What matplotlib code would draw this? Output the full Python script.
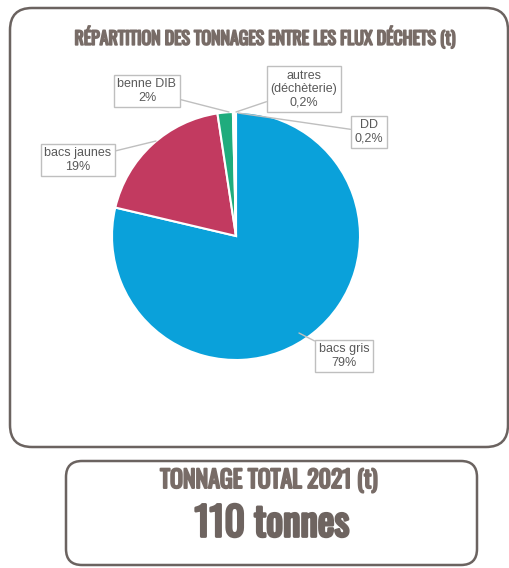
import matplotlib
matplotlib.use("Agg")
from matplotlib import pyplot as plt
from matplotlib.patches import FancyBboxPatch
import matplotlib.patheffects as pe

# data
flux = ['bacs gris', 'bacs jaunes', 'benne DIB', 'autres\n(déchèterie)', 'DD']
parts = [79, 19, 2, 0.2, 0.2]
parts_txt = ['79%', '19%', '2%', '0,2%', '0,2%']
total_tonnes = 110
annee = 2021

colors = ['#0aa1da', '#c23a60', '#1fac7d', '#ffffff', '#ffffff']

W, H = 510, 568
def Y(y):  # pixel from top -> data
    return H - y

fig = plt.figure(figsize=(W / 100, H / 100), dpi=100)
ax = fig.add_axes([0, 0, 1, 1])

narrow = ['Oswald', 'Barlow Condensed', 'Asap Condensed', 'DejaVu Sans']
lab_font = ['Liberation Sans', 'DejaVu Sans']
border = '#6b6360'
title_col = '#786c67'

# outer frames
ax.add_patch(FancyBboxPatch((10, Y(447)), 498, 439, boxstyle='round,pad=0,rounding_size=22',
                            fc='white', ec=border, lw=1.8, zorder=0))
ax.add_patch(FancyBboxPatch((66, Y(565)), 411, 104, boxstyle='round,pad=0,rounding_size=16',
                            fc='white', ec=border, lw=1.8, zorder=0))

wedges, _ = ax.pie(parts, colors=colors, startangle=90, counterclock=False,
                   center=(236, Y(236)), radius=124, frame=True,
                   wedgeprops=dict(edgecolor='white', linewidth=1.5))

# label boxes: centre in pixels, target on the pie edge
lab_pos = [(344, 356), (78, 160), (147, 91), (304, 89), (369, 132)]
targets = [(299, 333), (156, 141), (229, 112), (236, 112), (238, 113)]
for i in range(len(flux)):
    ax.annotate(f'{flux[i]}\n{parts_txt[i]}', xy=(targets[i][0], Y(targets[i][1])),
                xytext=(lab_pos[i][0], Y(lab_pos[i][1])), ha='center', va='center',
                fontsize=9, color='#595959', family=lab_font, linespacing=1.15,
                bbox=dict(boxstyle='square,pad=0.3', fc='white', ec='#bfbfbf', lw=1),
                arrowprops=dict(arrowstyle='-', color='#bfbfbf', lw=1, shrinkA=0, shrinkB=0),
                zorder=5)

def heavy(lw, col):
    # fake bold for the condensed family
    return [pe.withStroke(linewidth=lw, foreground=col)]

ax.text(265, Y(37), 'RÉPARTITION DES TONNAGES ENTRE LES FLUX DÉCHETS (t)', ha='center', va='center',
        fontsize=12.9, color=title_col, family=narrow, path_effects=heavy(1.2, title_col))
ax.text(269, Y(481), f'TONNAGE TOTAL {annee} (t)', ha='center', va='center',
        fontsize=17.2, color=title_col, family=narrow, path_effects=heavy(1.4, title_col))
ax.text(272, Y(524), f'{total_tonnes} tonnes', ha='center', va='center',
        fontsize=28.5, color='#6e6460', family=narrow, path_effects=heavy(2, '#6e6460'))

ax.set_xlim(0, W)
ax.set_ylim(0, H)
ax.set_aspect('equal')
ax.axis('off')

fig.savefig('out.png', dpi=100)
